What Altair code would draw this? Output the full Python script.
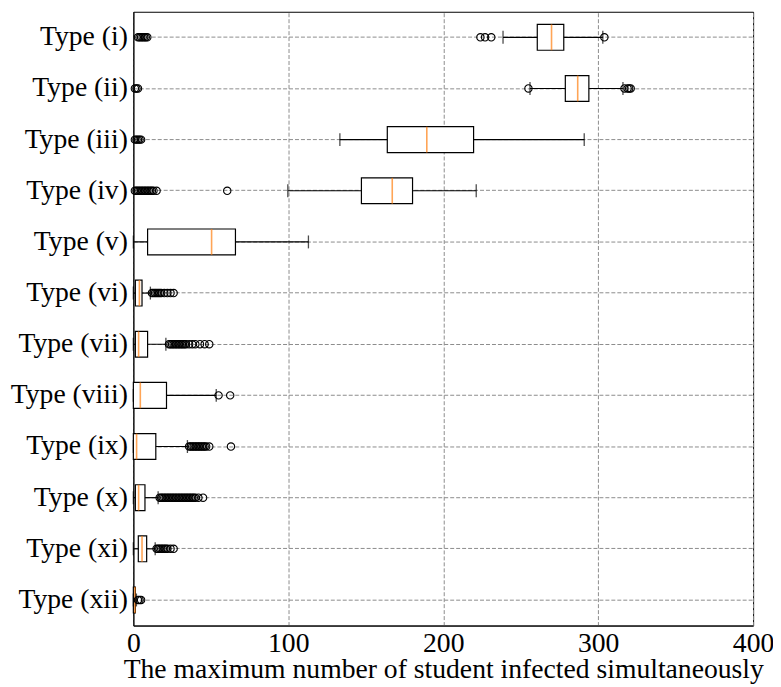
import altair as alt
import pandas as pd

types = ["Type (i)", "Type (ii)", "Type (iii)", "Type (iv)", "Type (v)", "Type (vi)",
         "Type (vii)", "Type (viii)", "Type (ix)", "Type (x)", "Type (xi)", "Type (xii)"]
q1 = [260.7, 278.8, 163.9, 147.2, 9.2, 1.3, 1.3, 0.0, 0.0, 1.3, 3.2, 0.0]
med = [269.9, 286.8, 189.4, 167.1, 50.5, 3.9, 3.4, 4.5, 2.1, 3.4, 5.6, 1.0]
q3 = [277.8, 294.0, 219.6, 180.2, 65.9, 5.6, 9.2, 21.4, 14.5, 7.5, 8.6, 1.3]
wlo = [238.6, 256.0, 133.3, 99.7, 0.0, 0.0, 0.0, 0.0, 0.0, 0.0, 0.0, 0.0]
whi = [303.0, 316.0, 291.0, 221.3, 113.0, 11.0, 21.0, 53.5, 34.9, 16.0, 14.1, 2.0]
outliers = [
    [3, 4, 5, 6, 7, 8, 9, 224, 227, 231, 304],
    [1, 2, 3, 255, 317, 319, 320, 321],
    [1, 2, 3, 4, 5],
    [1, 2, 3, 4, 5, 6, 7, 8, 9, 10, 11, 12, 13, 15, 60.6],
    [],
    [12, 13, 14, 15, 16, 17, 18, 20, 22, 24, 26],
    [23, 24, 25, 26, 27, 28, 29, 30, 31, 32, 33, 34, 36, 38, 40, 43, 46, 49],
    [55, 62.5],
    [36, 37, 38, 39, 40, 41, 42, 43, 44, 45, 46, 47, 49, 63],
    [17, 18, 19, 20, 21, 22, 23, 24, 25, 26, 27, 28, 29, 30, 31, 32, 33, 34, 35,
     36, 37, 38, 39, 40, 42, 45],
    [15, 16, 17, 18, 19, 20, 21, 22, 24, 26],
    [3, 4, 5],
]
x_ticks = [0, 100, 200, 300, 400]
x_title = "The maximum number of student infected simultaneously"

stats = pd.DataFrame({"type": types, "q1": q1, "med": med, "q3": q3, "wlo": wlo, "whi": whi})
outdf = pd.DataFrame([{"type": t, "v": v} for t, vals in zip(types, outliers) for v in vals])

font = "Liberation Serif"
fs = 27.8
grid_color = "#8c8c8c"

xscale = alt.Scale(domain=[0, 400], nice=False, zero=False)
yscale = alt.Scale(domain=types, paddingInner=0, paddingOuter=0)

x_axis = alt.Axis(values=x_ticks, title=x_title, grid=True, gridColor=grid_color,
                  gridDash=[4, 2], gridWidth=1, ticks=False, labelPadding=4,
                  labelFlush=False, titleBaseline="alphabetic", titleY=52, format="d")
y_axis = alt.Axis(title=None, grid=True, gridColor=grid_color, gridDash=[4, 2],
                  gridWidth=1, ticks=False, labelPadding=6, bandPosition=0.5)


def X(field):
    return alt.X(field, type="quantitative", scale=xscale, axis=x_axis)


Y = alt.Y("type:N", scale=yscale, sort=types, axis=y_axis)

base = alt.Chart(stats)

whisk = base.mark_rule(color="black", strokeWidth=1.2).encode(x=X("wlo"), x2="whi", y=Y)
box = base.mark_bar(size=26, fill="white", stroke="black", strokeWidth=1.2).encode(
    x=X("q1"), x2="q3", y=Y)
cap_lo = base.mark_tick(size=13, thickness=1.3, color="black").encode(x=X("wlo"), y=Y)
cap_hi = base.mark_tick(size=13, thickness=1.3, color="black").encode(x=X("whi"), y=Y)
median = base.mark_tick(size=26, thickness=1.6, color="#ff7f0e").encode(x=X("med"), y=Y)
fliers = alt.Chart(outdf).mark_point(shape="circle", filled=False, color="black",
                                     size=55, strokeWidth=1.1, opacity=1).encode(x=X("v"), y=Y)

chart = alt.layer(whisk, box, median, cap_lo, cap_hi, fliers).properties(
    width=623, height=617,
    autosize=alt.AutoSizeParams(type="none"),
    padding={"left": 126, "top": 2, "right": 20, "bottom": 60},
).configure_view(stroke="black", strokeWidth=1).configure_axis(
    labelFont=font, titleFont=font, labelFontSize=fs, titleFontSize=fs,
    labelColor="black", titleColor="black", domainColor="black", domainWidth=1,
    titleFontWeight="normal", labelFontWeight="normal",
)

chart.save("out.html", embed_options={"renderer": "svg", "actions": False})
